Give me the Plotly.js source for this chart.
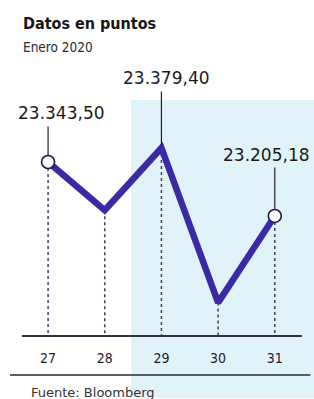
<!DOCTYPE html>
<html>
<head>
<meta charset="utf-8">
<script src="https://cdn.plot.ly/plotly-3.0.1.min.js"></script>
<style>
html,body{margin:0;padding:0;background:#fff;}
#chart{width:314px;height:399px;}
</style>
</head>
<body>
<div id="chart"></div>
<script>
const days = [27, 28, 29, 30, 31];
const dayLabels = ['27', '28', '29', '30', '31'];
const points = [23343.50, 23220.0, 23379.40, 22983.0, 23205.18];
const labelled = [0, 2, 4];
const labelTexts = ['23.343,50', '23.379,40', '23.205,18'];

const yMin = 22900, yMax = 23605;
const lineColor = '#3a2aa6';
const narrow = '"DejaVu Sans Condensed", sans-serif';

// dotted drop lines from each point to the axis
const dropX = [], dropY = [];
days.forEach((d, i) => { dropX.push(d, d, null); dropY.push(points[i], yMin, null); });

const traces = [
  {x: dropX, y: dropY, mode: 'lines', hoverinfo: 'skip',
   line: {color: '#3e4260', width: 1.5, dash: 'dot'}},
  {x: days, y: points, mode: 'lines', hoverinfo: 'skip',
   line: {color: lineColor, width: 6.5, shape: 'linear'}},
  {x: [days[0], days[4]], y: [points[0], points[4]], mode: 'markers', hoverinfo: 'skip',
   marker: {size: 13, color: '#ffffff', line: {color: '#1e1650', width: 1.6}}}
];

const shiftCfg = [{ys: 49, xs: 13, ay: -37}, {ys: 70, xs: 5, ay: -58}, {ys: 61, xs: -8, ay: -50}];
const annotations = [];
labelled.forEach((idx, k) => {
  annotations.push({x: days[idx], y: points[idx], xref: 'x', yref: 'y', text: '',
    showarrow: true, ax: 0, ay: shiftCfg[k].ay, arrowhead: 0, arrowwidth: 1.2,
    arrowcolor: '#222', standoff: (idx === 2 ? 2 : 6)});
  annotations.push({x: days[idx], y: points[idx], xref: 'x', yref: 'y', text: labelTexts[k],
    showarrow: false, yshift: shiftCfg[k].ys, xshift: shiftCfg[k].xs, yanchor: 'middle',
    font: {family: '"DejaVu Sans", sans-serif', size: 17, color: '#1a1a1a'}});
});
annotations.push({xref: 'paper', yref: 'paper', x: -0.005, y: 1.131, xanchor: 'left', yanchor: 'middle',
  showarrow: false, text: '<b>Datos en puntos</b>',
  font: {family: narrow, size: 16, color: '#161616'}});
annotations.push({xref: 'paper', yref: 'paper', x: -0.005, y: 1.046, xanchor: 'left', yanchor: 'middle',
  showarrow: false, text: 'Enero 2020',
  font: {family: narrow, size: 13.5, color: '#2a2a2a'}});
annotations.push({xref: 'paper', yref: 'paper', x: 0.025, y: -0.208, xanchor: 'left', yanchor: 'middle',
  showarrow: false, text: 'Fuente: Bloomberg',
  font: {family: '"DejaVu Sans", sans-serif', size: 13, color: '#333'}});

const layout = {
  width: 314, height: 399,
  margin: {l: 22, r: 12, t: 60, b: 64},
  paper_bgcolor: '#ffffff', plot_bgcolor: 'rgba(0,0,0,0)',
  showlegend: false,
  xaxis: {range: [26.54, 31.48], tickvals: days, ticktext: dayLabels,
    showgrid: false, zeroline: false, showline: true, linecolor: '#2f3040', linewidth: 2,
    ticks: '', ticklabelstandoff: 9,
    tickfont: {family: narrow, size: 14, color: '#1e2030'}},
  yaxis: {range: [yMin, yMax], showgrid: false, zeroline: false, showticklabels: false,
    showline: false, ticks: ''},
  shapes: [
    {type: 'rect', xref: 'paper', yref: 'paper', x0: 0.39, x1: 1.05, y0: -0.23, y1: 0.855,
     fillcolor: '#e0f3f9', line: {width: 0}, layer: 'below'},
    {type: 'line', xref: 'paper', yref: 'paper', x0: -0.043, x1: 1.03, y0: -0.145, y1: -0.145,
     line: {color: '#2a2a2a', width: 1.5}}
  ],
  annotations: annotations
};

Plotly.newPlot('chart', traces, layout, {displayModeBar: false, staticPlot: true});
</script>
</body>
</html>
